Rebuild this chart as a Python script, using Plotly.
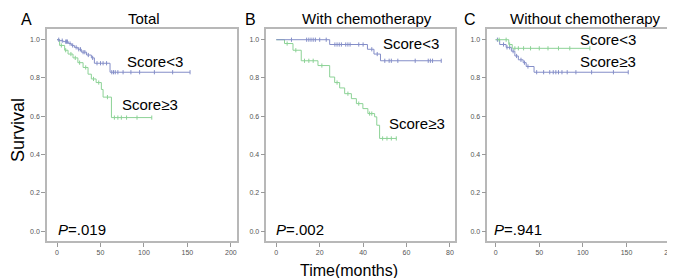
import plotly.graph_objects as go

# ---------------- data ----------------
# Panel A: Total
a_low_t = [0, 3, 7, 13, 16.5, 20, 24, 28, 34, 39.5, 43, 61, 153]
a_low_s = [1.0, 0.995, 0.99, 0.98, 0.97, 0.96, 0.95, 0.935, 0.92, 0.905, 0.877, 0.83, 0.83]
a_low_cens = [2, 6, 10, 11, 12, 15, 18, 22, 25, 27, 30, 32, 36, 41, 46, 50, 53, 57, 63, 65, 67, 70, 76, 85, 95, 112, 133, 153]
a_high_t = [0, 3, 8.8, 12.7, 18.4, 24, 30, 35.7, 39.5, 45, 51, 53, 62.6, 109]
a_high_s = [1.0, 0.97, 0.945, 0.925, 0.905, 0.88, 0.855, 0.82, 0.795, 0.776, 0.74, 0.70, 0.593, 0.593]
a_high_cens = [5, 10, 16, 21, 26, 33, 42, 48, 58, 66, 70, 74, 80, 92, 109]

# Panel B: With chemotherapy
b_low_t = [0, 24.6, 42, 45, 48, 76]
b_low_s = [1.0, 0.975, 0.95, 0.925, 0.89, 0.89]
b_low_cens = [7, 14, 15, 16, 17, 18, 20, 23, 27, 28, 29, 30, 32, 33, 34, 38, 40, 44, 46.5, 50, 52, 53, 56, 64, 70, 71, 72, 76]
b_high_t = [0, 3.8, 7.7, 11.5, 19.2, 24.6, 26.9, 29.2, 31.5, 34.6, 36.9, 39.9, 42.2, 45.3, 46.3, 47.6, 55.3]
b_high_s = [1.0, 0.98, 0.945, 0.89, 0.865, 0.805, 0.776, 0.748, 0.718, 0.692, 0.666, 0.640, 0.614, 0.597, 0.553, 0.484, 0.484]
b_high_cens = [5, 9, 13, 15, 17, 21, 28, 33, 38, 43, 44, 49, 51, 53, 55.3]

# Panel C: Without chemotherapy
c_low_t = [0, 15, 19, 108]
c_low_s = [1.0, 0.975, 0.955, 0.955]
c_low_cens = [4, 12, 16, 22, 26, 32, 40, 50, 60, 72, 85, 108]
c_high_t = [0, 4.6, 12, 18, 22, 26, 31.5, 35, 44, 152]
c_high_s = [1.0, 0.975, 0.96, 0.94, 0.915, 0.895, 0.88, 0.86, 0.83, 0.83]
c_high_cens = [2, 9, 13, 16, 20, 24, 29, 33, 37, 47, 55, 62, 66, 69, 72, 76, 82, 92, 110, 135, 152]

titles = ["Total", "With chemotherapy", "Without chemotherapy"]
letters = ["A", "B", "C"]
p_values = [".019", ".002", ".941"]

BLUE = "rgb(132,142,200)"
GREEN = "rgb(140,210,150)"
FONT = "Liberation Sans, Arial, sans-serif"

W, H = 675, 278

def step_val(ts, ss, t):
    v = ss[0]
    for ti, si in zip(ts, ss):
        if t >= ti:
            v = si
    return v

fig = go.Figure()

panels = [
    (a_low_t, a_low_s, a_low_cens, a_high_t, a_high_s, a_high_cens),
    (b_low_t, b_low_s, b_low_cens, b_high_t, b_high_s, b_high_cens),
    (c_low_t, c_low_s, c_low_cens, c_high_t, c_high_s, c_high_cens),
]
# panel C: top curve green, bottom curve blue
colors = [(BLUE, GREEN), (BLUE, GREEN), (GREEN, BLUE)]

for i, (lt, ls, lc, ht, hs, hc) in enumerate(panels):
    xa = "x" if i == 0 else f"x{i+1}"
    ya = "y" if i == 0 else f"y{i+1}"
    cl, ch = colors[i]
    for ts, ss, cens, col in [(ht, hs, hc, ch), (lt, ls, lc, cl)]:
        fig.add_trace(go.Scatter(x=ts, y=ss, mode="lines", line=dict(color=col, width=1, shape="hv"),
                                 xaxis=xa, yaxis=ya, showlegend=False, hoverinfo="skip"))
        fig.add_trace(go.Scatter(x=cens, y=[step_val(ts, ss, c) for c in cens], mode="markers",
                                 marker=dict(symbol="line-ns", size=3, line=dict(color=col, width=1)),
                                 xaxis=xa, yaxis=ya, showlegend=False, hoverinfo="skip"))

# domains (pixels -> paper)
xdoms = [(39, 229), (258.3, 446.7), (479.3, 671.7)]
xranges = [(-11.5, 207), (-4.6, 82.2), (-9.6, 211)]
xticks = [[0, 50, 100, 150, 200], [0, 20, 40, 60, 80], [0, 50, 100, 150, 200]]
ydom = (1 - 233 / H, 1 - 21 / H)

axis_common = dict(showline=True, linecolor="#b8b8b8", linewidth=1.5, mirror=True, showgrid=False,
                   zeroline=False, ticks="outside", ticklen=4, tickcolor="#999", tickwidth=1,
                   tickfont=dict(family=FONT, size=7, color="#555"))

layout = dict(width=W, height=H, margin=dict(l=0, r=0, t=0, b=0),
              paper_bgcolor="white", plot_bgcolor="white", font=dict(family=FONT))
for i in range(3):
    sx = "" if i == 0 else str(i + 1)
    layout[f"xaxis{sx}"] = dict(domain=[xdoms[i][0] / W, xdoms[i][1] / W], range=list(xranges[i]),
                                tickvals=xticks[i], anchor="y" + sx, **axis_common)
    layout[f"yaxis{sx}"] = dict(domain=list(ydom), range=[-0.052, 1.056], tickvals=[0, 0.2, 0.4, 0.6, 0.8, 1.0],
                                tickformat=".1f", anchor="x" + sx, **axis_common)
fig.update_layout(**layout)

def ann(text, px, py, size=15, xanchor="center", textangle=0):
    fig.add_annotation(text=text, x=px / W, y=1 - py / H, xref="paper", yref="paper", showarrow=False,
                       xanchor=xanchor, yanchor="middle", textangle=textangle,
                       font=dict(family=FONT, size=size, color="black"))

# panel letters and titles
for (lx, tx), letter, title in zip([(18.5, 136), (242, 359), (462, 577)], letters, titles):
    ann(letter, lx, 12, size=16)
    ann(title, tx, 10, size=15)

# curve labels
ann("Score&lt;3", 146.5, 53.5)
ann("Score≥3", 141.5, 96.7)
ann("Score&lt;3", 403, 36)
ann("Score≥3", 409, 115.5)
ann("Score&lt;3", 599.5, 31.7)
ann("Score≥3", 600, 53)

# p-values
for px, pv in zip([48, 265.7, 484.3], p_values):
    ann(f"<i>P</i>={pv}", px, 221, xanchor="left")

# axis titles
ann("Survival", 10, 122, size=18, textangle=-90)
ann("Time(months)", 340.7, 262, size=16)

fig.write_html("out.html")
